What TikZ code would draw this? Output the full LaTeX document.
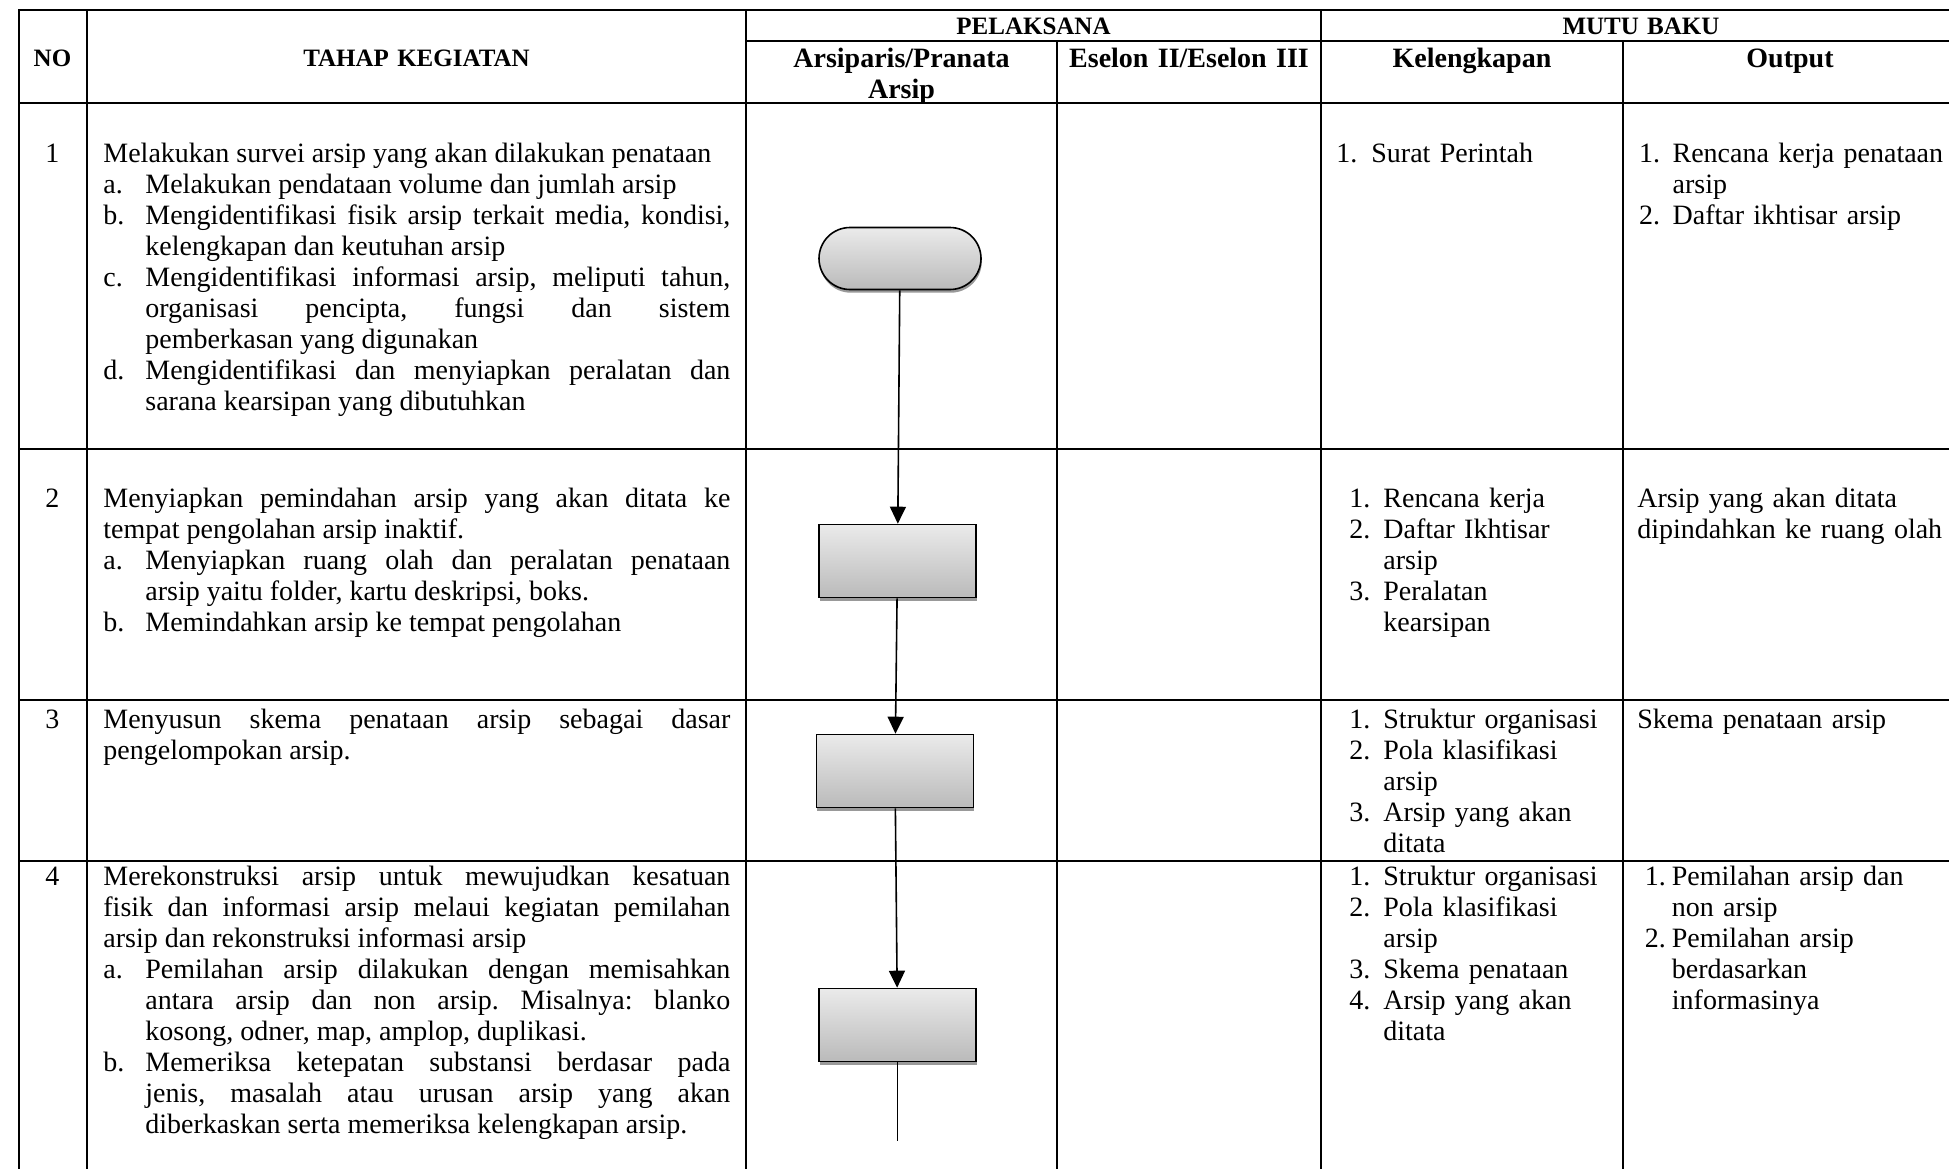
\documentclass[tikz,border=0pt]{standalone}
\usepackage{fontspec}
\setmainfont{Liberation Serif}
\usetikzlibrary{arrows.meta,positioning,shadows}
\newcommand{\cellfont}{\fontsize{14pt}{15.5pt}\selectfont\frenchspacing\tolerance=10000\hyphenpenalty=10000\emergencystretch=2em}
\newcommand{\itm}[2]{\hangindent=#1\hangafter=1\noindent\makebox[#1][l]{#2}}

\begin{document}
\begin{tikzpicture}[x=0.5pt, y=-0.5pt,
  grid/.style={line width=1.1pt, line cap=rect},
  hdr/.style={font=\bfseries\fontsize{14pt}{15.5pt}\selectfont, anchor=base, inner sep=0pt,
              text width=150pt, align=center},
  caps/.style={hdr, font=\bfseries\fontsize{12.5pt}{15.5pt}\selectfont},
  num/.style={font=\cellfont, anchor=base, inner sep=0pt},
  txt/.style={font=\cellfont, anchor=base west, inner sep=0pt, text width=313.5pt, align=justify},
  lst/.style={font=\cellfont, anchor=base west, inner sep=0pt, text width=175pt, align=left},
  shp/.style={draw, line width=0.8pt, top color=black!8, bottom color=black!27,
              drop shadow={shadow xshift=0.4pt, shadow yshift=-1.6pt, fill=black!40, opacity=1}},
  act/.style={shp, minimum width=78.5pt, minimum height=36.5pt},
  term/.style={shp, rounded corners=15.5pt, minimum width=81pt, minimum height=31pt},
  arr/.style={-{Triangle[length=8.5pt, width=8pt]}, line width=0.8pt}]
\path[use as bounding box, fill=white] (0,0) rectangle (1949,1168);
% table rules
\draw[grid] (18.6,10) -- (1949,10);
\draw[grid] (746,41) -- (1949,41);
\draw[grid] (18.6,103) -- (1949,103);
\foreach \y in {449,700,861} \draw[grid] (18.6,\y) -- (1949,\y);
\foreach \x in {18.6,87,746,1321} \draw[grid] (\x,10) -- (\x,1168);
\foreach \x in {1057,1623} \draw[grid] (\x,41) -- (\x,1168);
% header
\node[caps] (hNo)    at (52.5,66)  {NO};
\node[caps] (hTahap) at (416.5,66) {TAHAP KEGIATAN};
\node[caps] (hPel)   at (1033.5,34) {PELAKSANA};
\node[caps] (hMutu)  at (1641,34)  {MUTU BAKU};
\node[hdr]  (hArs)   at (901.5,67) {Arsiparis/Pranata\\Arsip};
\node[hdr]  (hEse)   at (1189,67)  {Eselon II/Eselon III};
\node[hdr]  (hKel)   at (1472,67)  {Kelengkapan};
\node[hdr]  (hOut)   at (1790,67)  {Output};
% row 1
\node[num] (n1) at (52.5,162.5) {1};
\node[txt] (t1) at (103,162.5) {Melakukan survei arsip yang akan dilakukan penataan\par
  \itm{21pt}{a.}Melakukan pendataan volume dan jumlah arsip\par
  \itm{21pt}{b.}Mengidentifikasi fisik arsip terkait media, kondisi,\linebreak kelengkapan dan keutuhan arsip\par
  \itm{21pt}{c.}Mengidentifikasi informasi arsip, meliputi tahun,\linebreak organisasi pencipta, fungsi dan sistem\linebreak pemberkasan yang digunakan\par
  \itm{21pt}{d.}Mengidentifikasi dan menyiapkan peralatan dan\linebreak sarana kearsipan yang dibutuhkan\par};
\node[lst] (k1) at (1336,162.5) {\itm{17.5pt}{1.}Surat Perintah\par};
\node[lst] (o1) at (1638.6,162.5) {\itm{16.8pt}{1.}Rencana kerja penataan\newline arsip\par
  \itm{16.8pt}{2.}Daftar ikhtisar arsip\par};
% row 2
\node[num] (n2) at (52.5,507.5) {2};
\node[txt] (t2) at (103,507.5) {Menyiapkan pemindahan arsip yang akan ditata ke\linebreak tempat pengolahan arsip inaktif.\par
  \itm{21pt}{a.}Menyiapkan ruang olah dan peralatan penataan\linebreak arsip yaitu folder, kartu deskripsi, boks.\par
  \itm{21pt}{b.}Memindahkan arsip ke tempat pengolahan\par};
\node[lst] (k2) at (1349,507.5) {\itm{17pt}{1.}Rencana kerja\par
  \itm{17pt}{2.}Daftar Ikhtisar\newline arsip\par
  \itm{17pt}{3.}Peralatan\newline kearsipan\par};
\node[lst] (o2) at (1637,507.5) {Arsip yang akan ditata\newline dipindahkan ke ruang olah\par};
% row 3
\node[num] (n3) at (52.5,728.5) {3};
\node[txt] (t3) at (103,728.5) {Menyusun skema penataan arsip sebagai dasar\linebreak pengelompokan arsip.\par};
\node[lst] (k3) at (1349,728.5) {\itm{17pt}{1.}Struktur organisasi\par
  \itm{17pt}{2.}Pola klasifikasi\newline arsip\par
  \itm{17pt}{3.}Arsip yang akan\newline ditata\par};
\node[lst] (o3) at (1637,728.5) {Skema penataan arsip\par};
% row 4
\node[num] (n4) at (52.5,885) {4};
\node[txt] (t4) at (103,885) {Merekonstruksi arsip untuk mewujudkan kesatuan\linebreak fisik dan informasi arsip melaui kegiatan pemilahan\linebreak arsip dan rekonstruksi informasi arsip\par
  \itm{21pt}{a.}Pemilahan arsip dilakukan dengan memisahkan\linebreak antara arsip dan non arsip. Misalnya: blanko\linebreak kosong, odner, map, amplop, duplikasi.\par
  \itm{21pt}{b.}Memeriksa ketepatan substansi berdasar pada\linebreak jenis, masalah atau urusan arsip yang akan\linebreak diberkaskan serta memeriksa kelengkapan arsip.\par};
\node[lst] (k4) at (1349,885) {\itm{17pt}{1.}Struktur organisasi\par
  \itm{17pt}{2.}Pola klasifikasi\newline arsip\par
  \itm{17pt}{3.}Skema penataan\par
  \itm{17pt}{4.}Arsip yang akan\newline ditata\par};
\node[lst] (o4) at (1644.5,885) {\itm{13.5pt}{1.}Pemilahan arsip dan\newline non arsip\par
  \itm{13.5pt}{2.}Pemilahan arsip\newline berdasarkan\newline informasinya\par};
% flow
\node[term] (start) at (900,258.5) {};
\node[act]  (act2)  at (897.5,561) {};
\node[act]  (act3)  at (895,771)   {};
\node[act]  (act4)  at (897.5,1025) {};
\coordinate (end4) at (897.5,1141);
\draw[arr] (start) -- (act2);
\draw[arr] (act2) -- (act3);
\draw[arr] (act3) -- (act4);
\draw[line width=0.6pt] (act4.south) -- (end4);
\end{tikzpicture}
\end{document}
